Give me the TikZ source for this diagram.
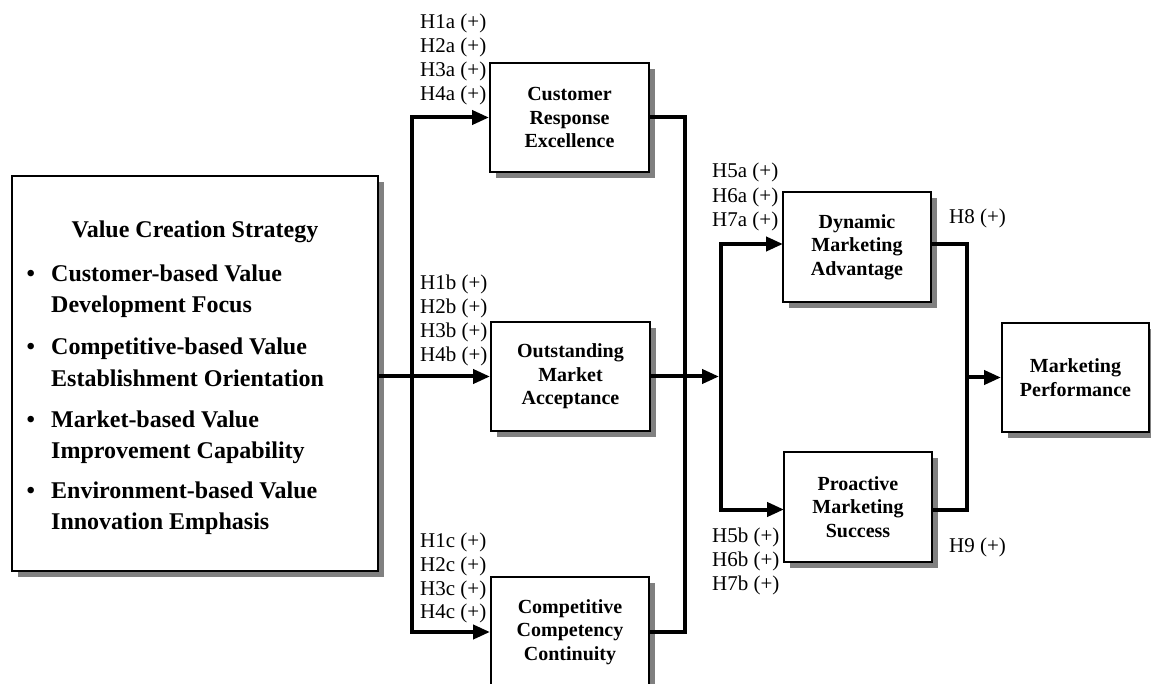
\documentclass[tikz,border=0pt]{standalone}
\usepackage{fontspec}
\setmainfont{Liberation Serif}
\usetikzlibrary{arrows.meta,shadows,calc}
\begin{document}
\begin{tikzpicture}[x=1pt,y=-1pt,
  box/.style={draw, line width=2pt, fill=white, inner sep=0pt, align=center,
    font=\fontsize{20}{23.5}\selectfont\bfseries,
    drop shadow={shadow xshift=6pt, shadow yshift=-6pt, fill=black!50, opacity=1}},
  conn/.style={line width=4pt},
  arr/.style={conn, -{Triangle[length=17pt,width=14pt]}},
  hyp/.style={anchor=base west, inner sep=0pt, font=\fontsize{21}{24}\selectfont},
  vcs/.style={anchor=base west, inner sep=0pt, font=\fontsize{24}{31}\selectfont\bfseries}]
\useasboundingbox (0,0) rectangle (1151,684);

% main construct with its four dimensions
\node[box, minimum width=366pt, minimum height=395pt] (big) at (195,373.5) {};
\node[vcs, anchor=base] (vtitle) at (195,238) {Value Creation Strategy};
\foreach \n/\y/\a/\b in {1/282/Customer-based Value/Development Focus,
                         2/355/Competitive-based Value/Establishment Orientation,
                         3/427/Market-based Value/Improvement Capability,
                         4/498/Environment-based Value/Innovation Emphasis}{
  \node[vcs] (bul\n) at (26.5,\y) {\textbullet};
  \node[vcs] (la\n) at (51,\y) {\a};
  \node[vcs] (lb\n) at (51,\y+31) {\b};
}

% mediating and outcome constructs
\node[box, minimum width=159pt, minimum height=109pt] (cre) at (569.5,117.5) {Customer\\Response\\Excellence};
\node[box, minimum width=159pt, minimum height=109pt] (oma) at (570.5,376.5) {Outstanding\\Market\\Acceptance};
\node[box, minimum width=158pt, minimum height=110pt] (ccc) at (570,632) {Competitive\\Competency\\Continuity};
\node[box, minimum width=148pt, minimum height=110pt] (dma) at (857,247) {Dynamic\\Marketing\\Advantage};
\node[box, minimum width=148pt, minimum height=110pt] (pms) at (858,507) {Proactive\\Marketing\\Success};
\node[box, minimum width=147pt, minimum height=109pt] (mp) at (1075.5,377.5) {Marketing\\Performance};

% junction points
\coordinate (s1) at (412,376.5);
\coordinate (m1) at (685,376.5);
\coordinate (j2) at (721,376.5);
\coordinate (dmaIn) at (783,244);
\coordinate (pmsIn) at (784,509.5);
\coordinate (m2) at (967,377.5);

% value creation strategy -> three consequences
\draw[arr] (big.east |- oma.west) -- (oma.west);
\draw[arr] (s1) |- (cre.west);
\draw[arr] (s1) |- (ccc.west);

% consequences -> marketing advantage / success
\draw[conn] (cre.east) -| (m1) |- (ccc.east);
\draw[arr, shorten >=2pt] (oma.east) -- (j2);
\draw[arr] (j2) |- (dmaIn);
\draw[arr] (j2) |- (pmsIn);

% advantage / success -> performance
\draw[conn] (dma.east |- dmaIn) -| (m2) |- (pms.east |- pmsIn);
\draw[arr] (m2) -- (mp.west);

% hypothesis labels
\foreach \i/\y in {1/29,2/53,3/77,4/101}{
  \node[hyp] (h\i a) at (420,\y) {H\i a (+)};}
\foreach \i/\y in {1/290,2/314,3/338,4/362}{
  \node[hyp] (h\i b) at (420,\y) {H\i b (+)};}
\foreach \i/\y in {1/547,2/571,3/595,4/618}{
  \node[hyp] (h\i c) at (420,\y) {H\i c (+)};}
\foreach \i/\y in {5/178,6/203,7/227}{
  \node[hyp] (h\i a) at (712,\y) {H\i a (+)};}
\foreach \i/\y in {5/542,6/566,7/590}{
  \node[hyp] (h\i b) at (712,\y) {H\i b (+)};}
\node[hyp] (h8) at (949,224) {H8 (+)};
\node[hyp] (h9) at (949,552) {H9 (+)};
\end{tikzpicture}
\end{document}
